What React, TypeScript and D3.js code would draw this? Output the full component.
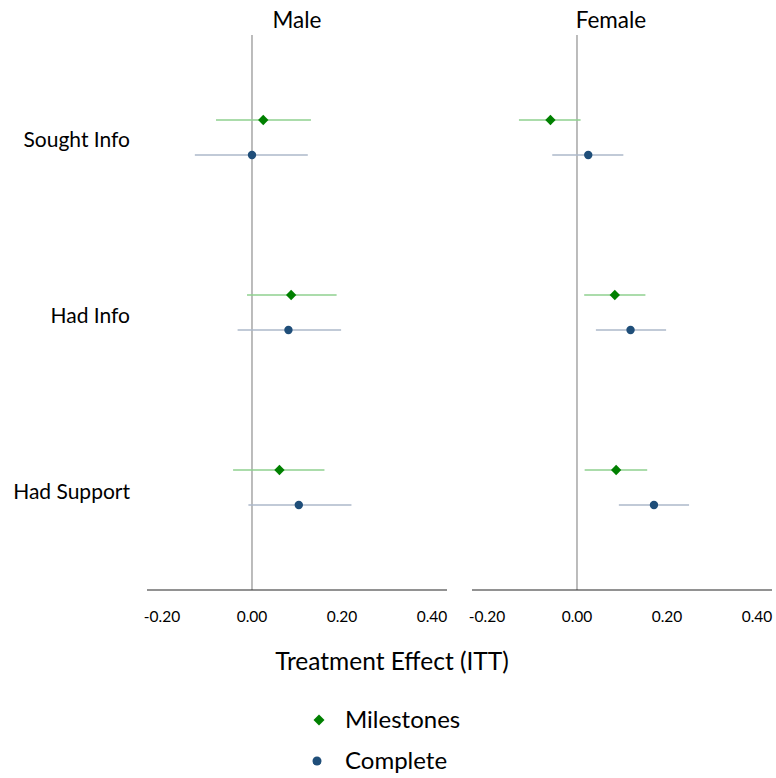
import React from "react";
import * as d3 from "d3";

// Outcomes (rows) and panels
const outcomes = ["Sought Info", "Had Info", "Had Support"];
const panels = ["Male", "Female"];
const tickValues = [-0.2, 0, 0.2, 0.4];

// Milestones arm: point estimate and 95% CI, per panel, per outcome
const milestonesMale = [0.025, 0.087, 0.061];
const milestonesMaleLo = [-0.08, -0.011, -0.042];
const milestonesMaleHi = [0.131, 0.188, 0.161];
const milestonesFemale = [-0.059, 0.084, 0.087];
const milestonesFemaleLo = [-0.129, 0.016, 0.017];
const milestonesFemaleHi = [0.008, 0.152, 0.156];

// Complete arm
const completeMale = [0.0, 0.081, 0.104];
const completeMaleLo = [-0.127, -0.032, -0.008];
const completeMaleHi = [0.124, 0.198, 0.221];
const completeFemale = [0.025, 0.119, 0.171];
const completeFemaleLo = [-0.055, 0.042, 0.093];
const completeFemaleHi = [0.103, 0.198, 0.249];

const W = 776;
const H = 778;
const FONT = "Lato, 'Open Sans', sans-serif";

const GREEN = "#008000";
const GREEN_CI = "#8fd08f";
const BLUE = "#1f4e79";
const BLUE_CI = "#adb9ca";

const panelX = [147, 472];
const panelW = 300;
const plotTop = 35;
const axisY = 590;
const rowY = [120, 295, 470];
const rowGap = 35;
const xDomain: [number, number] = [-0.2333, 0.4333];

export default function App() {
  const series = [
    {
      name: "Milestones",
      est: [milestonesMale, milestonesFemale],
      lo: [milestonesMaleLo, milestonesFemaleLo],
      hi: [milestonesMaleHi, milestonesFemaleHi],
      color: GREEN,
      ci: GREEN_CI,
      shape: "diamond",
      dy: 0,
    },
    {
      name: "Complete",
      est: [completeMale, completeFemale],
      lo: [completeMaleLo, completeFemaleLo],
      hi: [completeMaleHi, completeFemaleHi],
      color: BLUE,
      ci: BLUE_CI,
      shape: "circle",
      dy: rowGap,
    },
  ];

  const diamond = d3.symbol(d3.symbolDiamond2, 68)();
  const legendDiamond = d3.symbol(d3.symbolDiamond2, 78)();

  return (
    <svg
      width={W}
      height={H}
      style={{ position: "absolute", left: 0, top: 0, background: "#fff" }}
      fontFamily={FONT}
    >
      {panels.map((p, pi) => {
        const x = d3
          .scaleLinear()
          .domain(xDomain)
          .range([panelX[pi], panelX[pi] + panelW]);
        return (
          <g key={p}>
            <text
              x={pi === 0 ? 297 : 611}
              y={28}
              textAnchor="middle"
              fontSize={22.5}
              fill="#000"
            >
              {p}
            </text>
            <line
              x1={x(0)}
              x2={x(0)}
              y1={plotTop}
              y2={axisY}
              stroke="#a6a6a6"
              strokeWidth={1.5}
            />
            <line
              x1={panelX[pi]}
              x2={panelX[pi] + panelW}
              y1={axisY}
              y2={axisY}
              stroke="#262626"
              strokeWidth={1.2}
            />
            {tickValues.map((t) => (
              <text
                key={t}
                x={x(t)}
                y={622}
                textAnchor="middle"
                fontSize={15.5}
                fill="#000"
              >
                {d3.format(".2f")(t).replace("−", "-")}
              </text>
            ))}
            {series.map((s) =>
              outcomes.map((o, oi) => {
                const cy = rowY[oi] + s.dy;
                const cx = x(s.est[pi][oi]);
                return (
                  <g key={s.name + o}>
                    <line
                      x1={x(s.lo[pi][oi])}
                      x2={x(s.hi[pi][oi])}
                      y1={cy}
                      y2={cy}
                      stroke={s.ci}
                      strokeWidth={1.4}
                    />
                    {s.shape === "diamond" ? (
                      <path
                        d={diamond as string}
                        transform={`translate(${cx},${cy})`}
                        fill={s.color}
                      />
                    ) : (
                      <circle cx={cx} cy={cy} r={4.2} fill={s.color} />
                    )}
                  </g>
                );
              })
            )}
          </g>
        );
      })}

      {outcomes.map((o, oi) => (
        <text
          key={o}
          x={130}
          y={rowY[oi] + rowGap / 2 + 9 + oi}
          textAnchor="end"
          fontSize={21}
          fill="#000"
        >
          {o}
        </text>
      ))}

      <text x={392} y={670} textAnchor="middle" fontSize={24.5} fill="#000">
        Treatment Effect (ITT)
      </text>

      <g>
        <path
          d={legendDiamond as string}
          transform="translate(319,720)"
          fill={GREEN}
        />
        <text x={345} y={728} fontSize={24} fill="#000">
          Milestones
        </text>
        <circle cx={317} cy={761} r={4.5} fill={BLUE} />
        <text x={345} y={769} fontSize={24} fill="#000">
          Complete
        </text>
      </g>
    </svg>
  );
}
